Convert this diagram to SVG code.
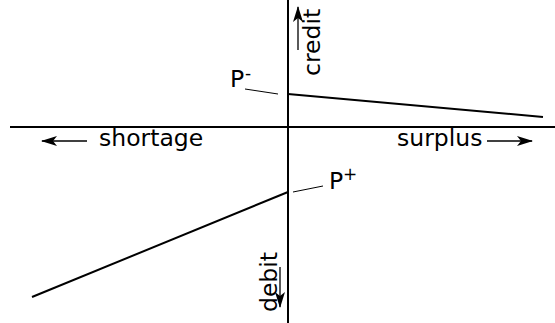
<svg xmlns="http://www.w3.org/2000/svg" width="555" height="323" viewBox="0 0 555 323">
<style>
.ax{stroke:#000;stroke-width:2;fill:none}
.ln{stroke:#000;stroke-width:2;fill:none}
.ld{stroke:#000;stroke-width:1;fill:none}
.ar{stroke:#000;stroke-width:1.3;fill:none;marker-end:url(#ah)}
text{font-family:"DejaVu Sans",sans-serif;font-size:23.5px;fill:#000}
.sup{font-size:17px}
</style>
<defs>
<marker id="ah" markerWidth="18" markerHeight="12" refX="15" refY="6" orient="auto" markerUnits="userSpaceOnUse">
<path d="M0,1 L16,6 L0,11 L4,6 Z" fill="#000"/>
</marker>
</defs>
<g id="axes">
<line class="ax" x1="288" y1="0" x2="288" y2="323"/>
<line class="ax" x1="10" y1="127" x2="555" y2="127"/>
</g>
<g id="connectors">
<line class="ln" x1="288" y1="94" x2="543" y2="117"/>
<line class="ln" x1="288" y1="192" x2="32" y2="297"/>
<line class="ld" x1="245" y1="89" x2="278" y2="94"/>
<line class="ld" x1="293" y1="192" x2="323" y2="186"/>
<line class="ar" x1="87" y1="141" x2="42" y2="141"/>
<line class="ar" x1="487" y1="141" x2="532" y2="141"/>
<line class="ar" x1="298" y1="50" x2="298" y2="7"/>
<line class="ar" x1="280" y1="267" x2="280" y2="307"/>
</g>
<g id="label-shortage"><text x="99" y="146">shortage</text></g>
<g id="label-surplus"><text x="397" y="146">surplus</text></g>
<g id="label-credit"><text transform="translate(320,76) rotate(-90)">credit</text></g>
<g id="label-debit"><text transform="translate(277,312) rotate(-90)">debit</text></g>
<g id="label-pminus"><text x="230" y="87">P</text><text class="sup" x="245" y="79">-</text></g>
<g id="label-pplus"><text x="329" y="189">P</text><text class="sup" x="343" y="180">+</text></g>
</svg>
